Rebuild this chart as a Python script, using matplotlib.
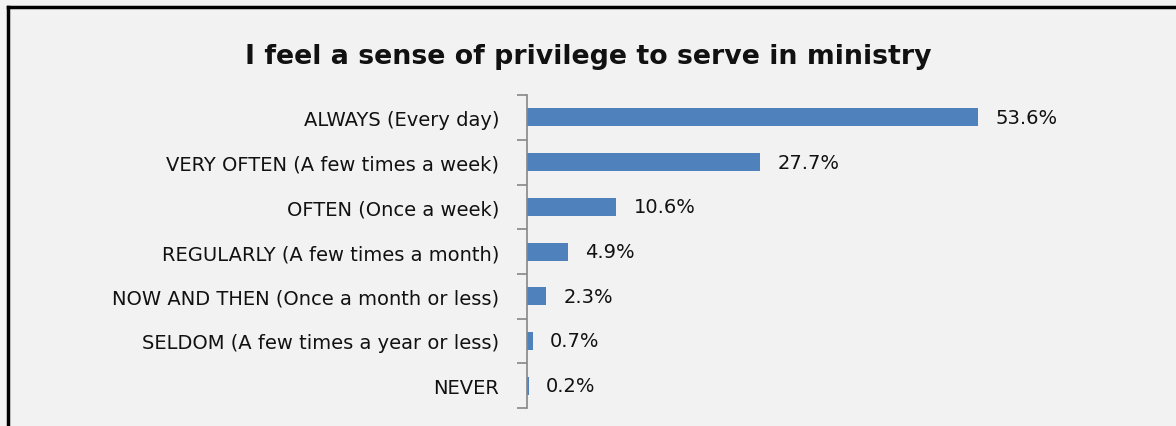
import matplotlib
matplotlib.use('Agg')
import matplotlib.pyplot as plt
from matplotlib.lines import Line2D
import numpy as np

# data
categories = ['ALWAYS (Every day)', 'VERY OFTEN (A few times a week)', 'OFTEN (Once a week)',
              'REGULARLY (A few times a month)', 'NOW AND THEN (Once a month or less)',
              'SELDOM (A few times a year or less)', 'NEVER']
values = [53.6, 27.7, 10.6, 4.9, 2.3, 0.7, 0.2]
labels = ['53.6%', '27.7%', '10.6%', '4.9%', '2.3%', '0.7%', '0.2%']

bg = '#f2f2f2'
plt.rcParams['font.family'] = ['DejaVu Sans']

fig = plt.figure(figsize=(11.76, 4.27), dpi=100, facecolor=bg)
ax = fig.add_axes([0.448, 0.042, 0.501, 0.733], facecolor=bg)

y = np.arange(len(categories))
ax.barh(y, values, height=0.4, color='#4f81bd')

# value labels to the right of each bar
for yi, v, lab in zip(y, values, labels):
    ax.annotate(lab, (v, yi), xytext=(12.5, 0), textcoords='offset points',
                va='center', ha='left', fontsize=14, color='#111111')

ax.set_xlim(0, 70)
ax.set_ylim(len(categories) - 0.5, -0.5)

ax.set_yticks(y)
ax.set_yticklabels(categories, fontsize=14, color='#111111')
ax.tick_params(axis='y', which='major', length=0, pad=20)
ax.set_yticks(np.arange(-0.5, len(categories)), minor=True)
ax.tick_params(axis='y', which='minor', length=7, color='#868686', width=1.2)
ax.set_xticks([])

for s in ['top', 'right', 'bottom']:
    ax.spines[s].set_visible(False)
ax.spines['left'].set_color('#868686')
ax.spines['left'].set_linewidth(1.2)

fig.text(0.5, 0.85, 'I feel a sense of privilege to serve in ministry',
         ha='center', va='baseline', fontsize=19.3, fontweight='bold', color='#111111')

# outer frame (top and left edge visible)
fig.add_artist(Line2D([7.5 / 1176, 7.5 / 1176], [0, 1 - 7.5 / 427], transform=fig.transFigure,
                      color='black', lw=2.5))
fig.add_artist(Line2D([7.5 / 1176, 1], [1 - 7.5 / 427, 1 - 7.5 / 427], transform=fig.transFigure,
                      color='black', lw=2.5))

plt.savefig('out.png', dpi=100, facecolor=bg)
